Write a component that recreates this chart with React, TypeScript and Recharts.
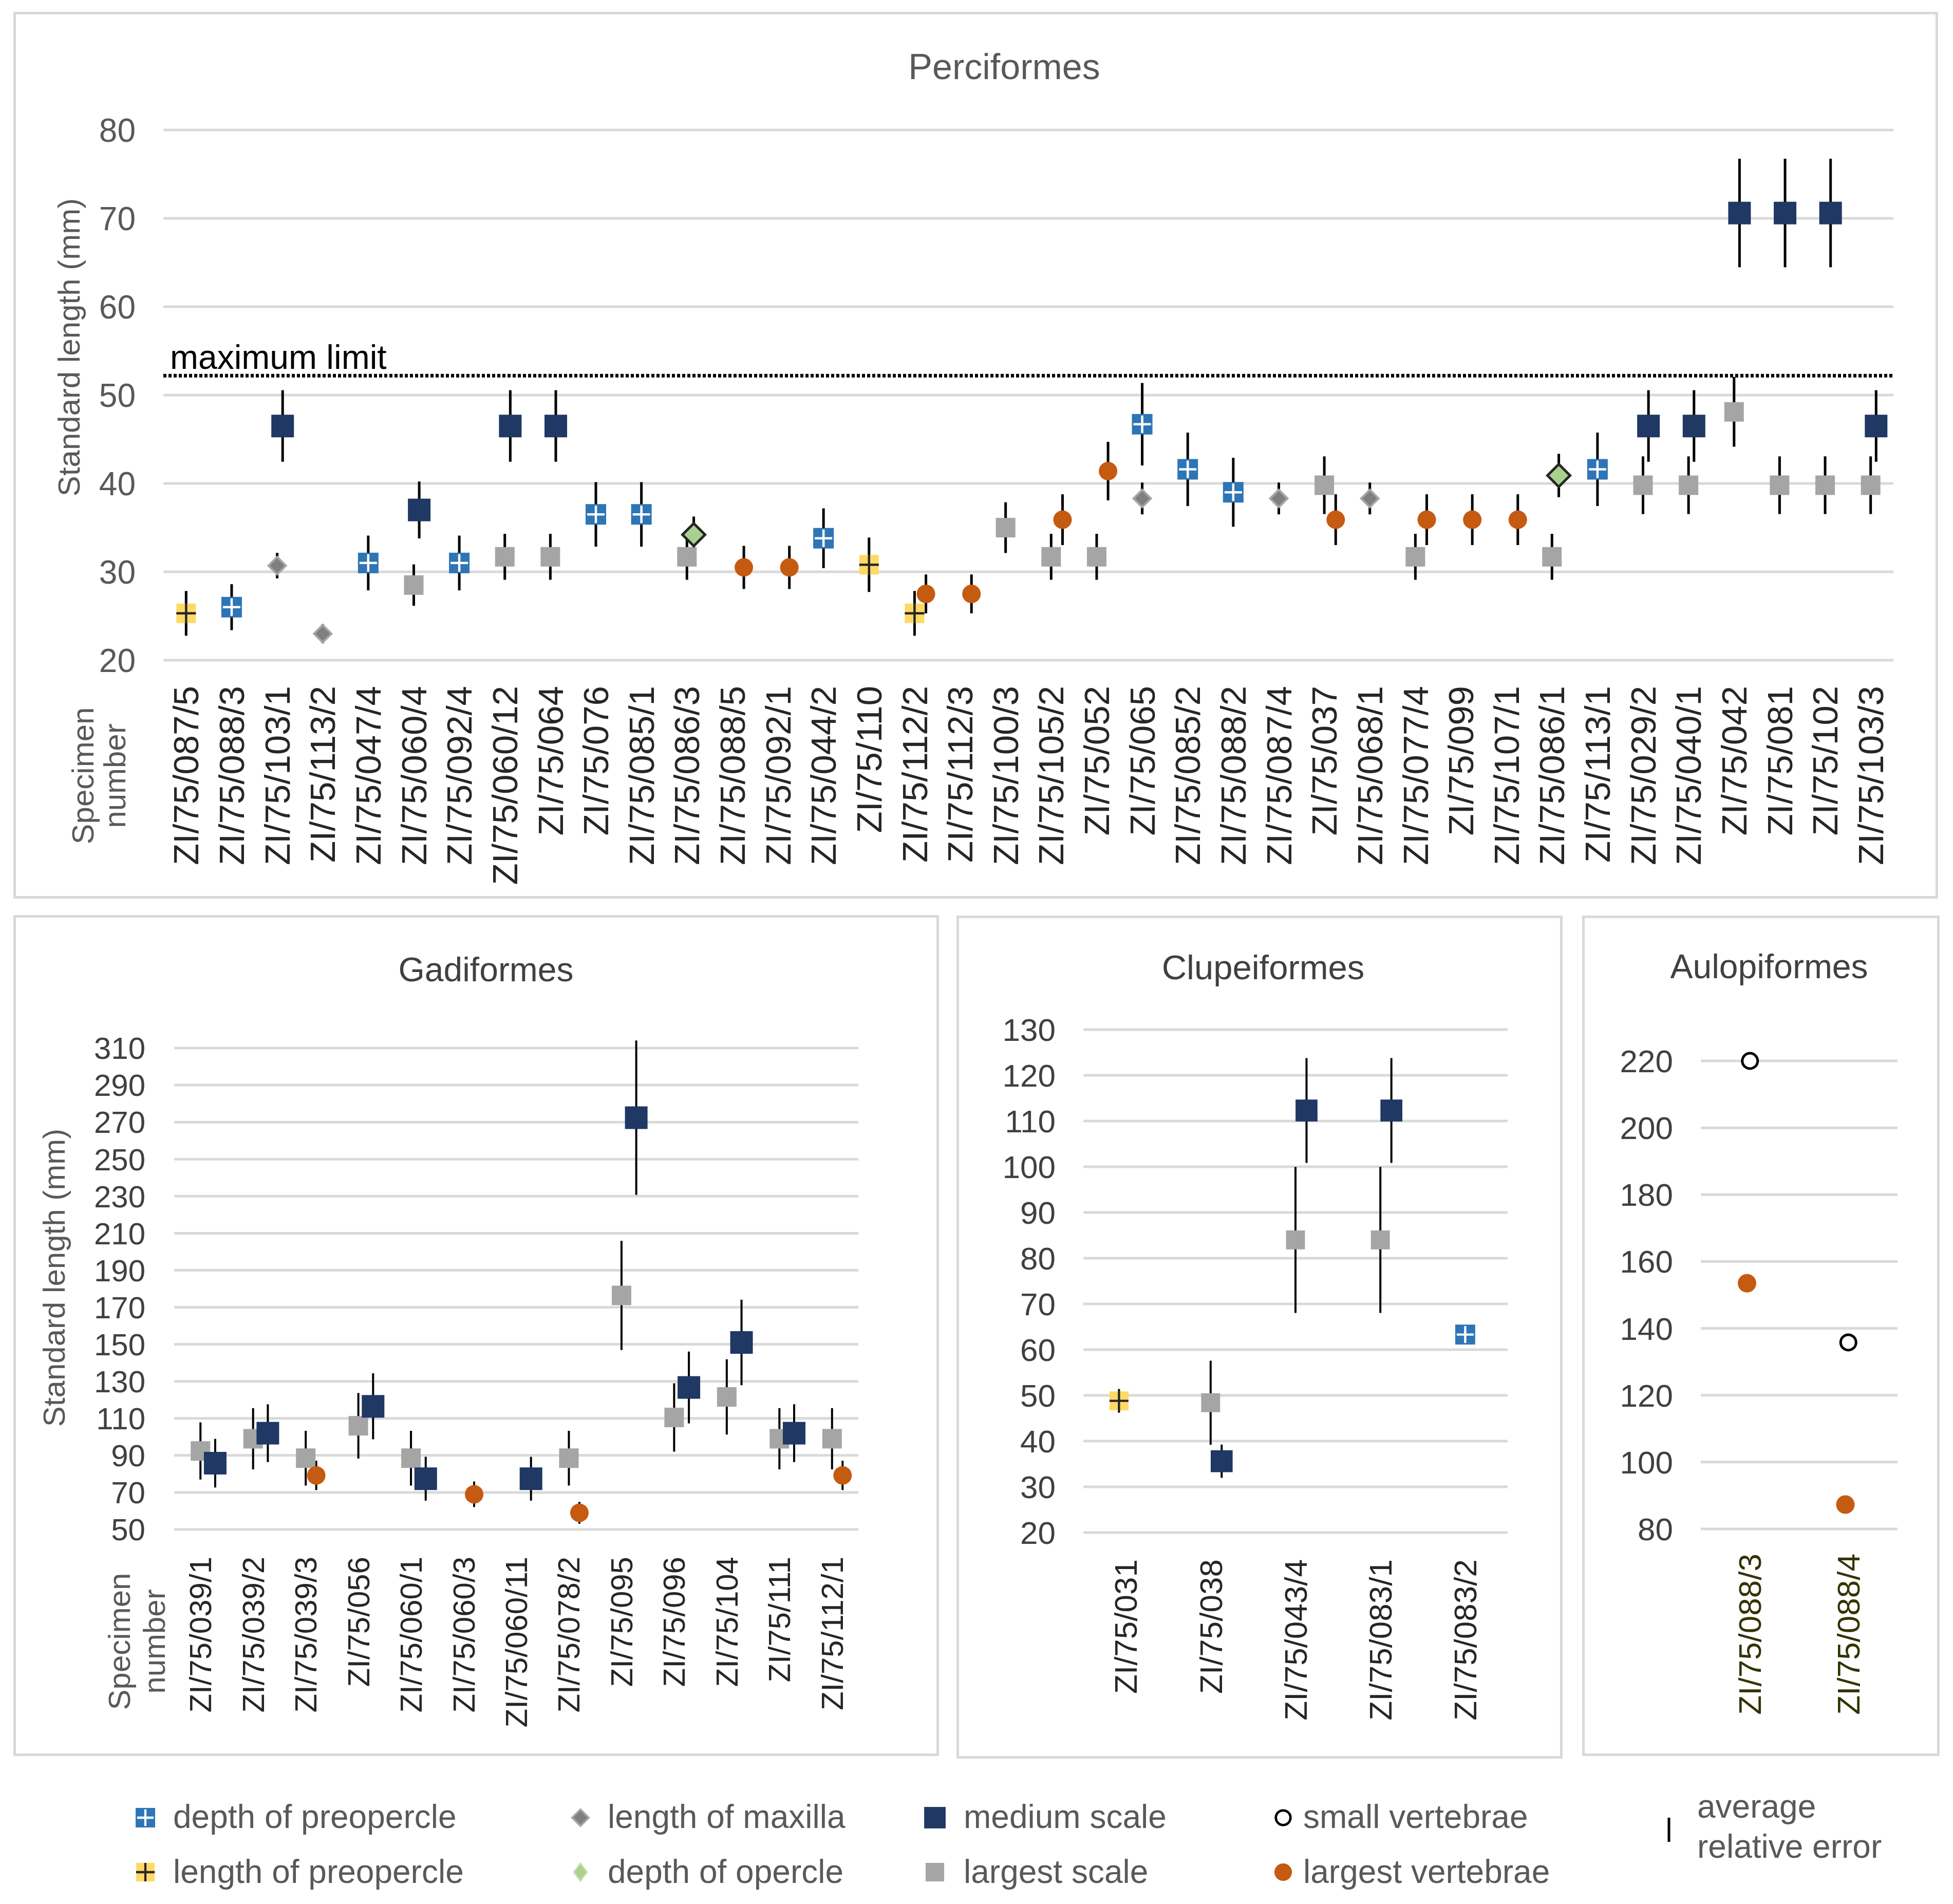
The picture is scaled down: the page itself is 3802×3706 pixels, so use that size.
import React from 'react'
import { ScatterChart, Scatter, XAxis, YAxis, CartesianGrid, ErrorBar, ReferenceLine } from 'recharts'

const FONT = '"Liberation Sans", Arial, Helvetica, sans-serif'
const _ = null

// ---------- Perciformes ----------
const percSpecimens = [
  'ZI/75/087/5', 'ZI/75/088/3', 'ZI/75/103/1', 'ZI/75/113/2', 'ZI/75/047/4', 'ZI/75/060/4', 'ZI/75/092/4',
  'ZI/75/060/12', 'ZI/75/064', 'ZI/75/076', 'ZI/75/085/1', 'ZI/75/086/3', 'ZI/75/088/5', 'ZI/75/092/1',
  'ZI/75/044/2', 'ZI/75/110', 'ZI/75/112/2', 'ZI/75/112/3', 'ZI/75/100/3', 'ZI/75/105/2', 'ZI/75/052',
  'ZI/75/065', 'ZI/75/085/2', 'ZI/75/088/2', 'ZI/75/087/4', 'ZI/75/037', 'ZI/75/068/1', 'ZI/75/077/4',
  'ZI/75/099', 'ZI/75/107/1', 'ZI/75/086/1', 'ZI/75/113/1', 'ZI/75/029/2', 'ZI/75/040/1', 'ZI/75/042',
  'ZI/75/081', 'ZI/75/102', 'ZI/75/103/3',
]
const percDepthPreopercle = [_, 26, _, _, 31, _, 31, _, _, 36.5, 36.5, _, _, _, 33.8, _, _, _, _, _, _, 46.7, 41.6, 39, _, _, _, _, _, _, _, 41.6, _, _, _, _, _, _]
const percLengthPreopercle = [25.3, _, _, _, _, _, _, _, _, _, _, _, _, _, _, 30.8, 25.3, _, _, _, _, _, _, _, _, _, _, _, _, _, _, _, _, _, _, _, _, _]
const percLengthMaxilla = [_, _, 30.7, 23, _, _, _, _, _, _, _, _, _, _, _, _, _, _, _, _, _, 38.3, _, _, 38.3, _, 38.3, _, _, _, _, _, _, _, _, _, _, _]
const percDepthOpercle = [_, _, _, _, _, _, _, _, _, _, _, 34.2, _, _, _, _, _, _, _, _, _, _, _, _, _, _, _, _, _, _, 40.9, _, _, _, _, _, _, _]
const percMediumScale = [_, _, 46.5, _, _, 37, _, 46.5, 46.5, _, _, _, _, _, _, _, _, _, _, _, _, _, _, _, _, _, _, _, _, _, _, _, 46.5, 46.5, 70.6, 70.6, 70.6, 46.5]
const percLargestScale = [_, _, _, _, _, 28.5, _, 31.7, 31.7, _, _, 31.7, _, _, _, _, _, _, 35, 31.7, 31.7, _, _, _, _, 39.8, _, 31.7, _, _, 31.7, _, 39.8, 39.8, 48.1, 39.8, 39.8, 39.8]
const percLargestVertebrae = [_, _, _, _, _, _, _, _, _, _, _, _, 30.5, 30.5, _, _, 27.5, 27.5, _, 35.9, 41.4, _, _, _, _, 35.9, _, 35.9, 35.9, 35.9, _, _, _, _, _, _, _, _]
const percTicks = [20, 30, 40, 50, 60, 70, 80]
const percMaximumLimit = 52.2

// ---------- Gadiformes ----------
const gadiSpecimens = [
  'ZI/75/039/1', 'ZI/75/039/2', 'ZI/75/039/3', 'ZI/75/056', 'ZI/75/060/1', 'ZI/75/060/3', 'ZI/75/060/11',
  'ZI/75/078/2', 'ZI/75/095', 'ZI/75/096', 'ZI/75/104', 'ZI/75/111', 'ZI/75/112/1',
]
const gadiLargestScale = [92.4, 99, 88.5, 106, 88.5, _, _, 88.5, 176.4, 110.5, 121.6, 99, 99]
const gadiMediumScale = [85.8, 102, _, 116.5, 77.4, _, 77.4, _, 272.4, 126.7, 151, 102, _]
const gadiLargestVertebrae = [_, _, 79.2, _, _, 69, _, 59, _, _, _, _, 79.2]
const gadiTicks = [50, 70, 90, 110, 130, 150, 170, 190, 210, 230, 250, 270, 290, 310]

// ---------- Clupeiformes ----------
const clupSpecimens = ['ZI/75/031', 'ZI/75/038', 'ZI/75/043/4', 'ZI/75/083/1', 'ZI/75/083/2']
const clupLengthPreopercle = [48.8, _, _, _, _]
const clupLargestScale = [_, 48.4, 84, 84, _]
const clupMediumScale = [_, 35.6, 112.3, 112.3, _]
const clupDepthPreopercle = [_, _, _, _, 63.3]
const clupTicks = [20, 30, 40, 50, 60, 70, 80, 90, 100, 110, 120, 130]

// ---------- Aulopiformes ----------
const aulSpecimens = ['ZI/75/088/3', 'ZI/75/088/4']
const aulSmallVertebrae = [220, 135.8]
const aulLargestVertebrae = [153.5, 87.3]
const aulTicks = [80, 100, 120, 140, 160, 180, 200, 220]

// average relative error of each estimate, per order
const percRelError = { depthPre: 0.1, lengthPre: 0.1, maxilla: 0.047, opercle: 0.06, medium: 0.087, largest: 0.082, vertL: 0.08 }
const gadiRelError = { largest: 0.167, medium: 0.153, vertL: 0.1 }
const clupRelError = { lengthPre: 0.053, largest: 0.19, medium: 0.102, depthPre: 0 }

const legendRow1 = [
  { kind: 'depthPre', label: 'depth of preopercle' },
  { kind: 'maxilla', label: 'length of maxilla' },
  { kind: 'medium', label: 'medium scale' },
  { kind: 'vertS', label: 'small vertebrae' },
]
const legendRow2 = [
  { kind: 'lengthPre', label: 'length of preopercle' },
  { kind: 'opercleKey', label: 'depth of opercle' },
  { kind: 'largest', label: 'largest scale' },
  { kind: 'vertL', label: 'largest vertebrae' },
]

function Marker({ kind, cx, cy, scale = 1 }: any) {
  if (cx == null || cy == null) return null
  const s = scale
  if (kind === 'depthPre') {
    const h = 20 * s
    return (
      <g>
        <rect x={cx - h} y={cy - h} width={2 * h} height={2 * h} fill="#2e75b6" />
        <line x1={cx - h * 0.85} x2={cx + h * 0.85} y1={cy} y2={cy} stroke="#fff" strokeWidth={4.5 * s} />
        <line x1={cx} x2={cx} y1={cy - h * 0.85} y2={cy + h * 0.85} stroke="#fff" strokeWidth={4.5 * s} />
      </g>
    )
  }
  if (kind === 'lengthPre') {
    const h = 19 * s
    return (
      <g>
        <rect x={cx - h} y={cy - h} width={2 * h} height={2 * h} fill="#ffd966" />
        <line x1={cx - h} x2={cx + h} y1={cy} y2={cy} stroke="#262626" strokeWidth={4.5 * s} />
        <line x1={cx} x2={cx} y1={cy - h} y2={cy + h} stroke="#262626" strokeWidth={4.5 * s} />
      </g>
    )
  }
  if (kind === 'maxilla') {
    const r = 17 * s
    return <polygon points={`${cx},${cy - r} ${cx + r},${cy} ${cx},${cy + r} ${cx - r},${cy}`} fill="#7f7f7f" stroke="#a6a6a6" strokeWidth={4 * s} />
  }
  if (kind === 'opercle') {
    const r = 22 * s
    return <polygon points={`${cx},${cy - r} ${cx + r},${cy} ${cx},${cy + r} ${cx - r},${cy}`} fill="#a9d18e" stroke="#262626" strokeWidth={5 * s} />
  }
  if (kind === 'opercleKey') {
    const r = 18 * s
    return <polygon points={`${cx},${cy - r} ${cx + r * 0.75},${cy} ${cx},${cy + r} ${cx - r * 0.75},${cy}`} fill="#a9d18e" stroke="#c5e0b4" strokeWidth={3 * s} />
  }
  if (kind === 'medium') {
    const h = 22 * s
    return <rect x={cx - h} y={cy - h} width={2 * h} height={2 * h} fill="#1f3864" />
  }
  if (kind === 'largest') {
    const h = 19 * s
    return <rect x={cx - h} y={cy - h} width={2 * h} height={2 * h} fill="#a5a5a5" />
  }
  if (kind === 'vertL') {
    return <circle cx={cx} cy={cy} r={18 * s} fill="#c55a11" />
  }
  return <circle cx={cx} cy={cy} r={15 * s} fill="#fff" stroke="#000" strokeWidth={5 * s} />
}

function toPoints(values: (number | null)[], rel: number, offset: number) {
  const pts: { x: number; y: number; err: number }[] = []
  values.forEach((v, i) => {
    if (v != null) pts.push({ x: i + 1 + offset, y: v, err: v * rel })
  })
  return pts
}

function CatTick({ x, y, payload, labels, fontSize, fill }: any) {
  const label = labels[Math.round(payload.value) - 1]
  return (
    <g transform={`translate(${x},${y})`}>
      <text transform="rotate(-90)" textAnchor="end" dy="0.35em" fontSize={fontSize} fill={fill}>
        {label}
      </text>
    </g>
  )
}

function Panel({ box, plot, specimens, yDomain, yTicks, clipY, series, catFont, catColor, catGap, tickFont, tickColor, tickGap, barWidth, markerScale, children }: any) {
  const n = specimens.length
  const xTicks = specimens.map((_s: string, i: number) => i + 1)
  return (
    <div style={{ position: 'absolute', left: box.left, top: box.top }}>
      <ScatterChart
        width={box.width}
        height={box.height}
        margin={{ top: plot.top - box.top, right: box.left + box.width - plot.right, bottom: 0, left: 0 }}
      >
        <CartesianGrid vertical={false} stroke="#d9d9d9" strokeWidth={5} />
        <XAxis
          type="number"
          dataKey="x"
          domain={[0.5, n + 0.5]}
          ticks={xTicks}
          interval={0}
          height={box.top + box.height - plot.bottom}
          axisLine={false}
          tickLine={false}
          tickSize={0}
          tickMargin={catGap}
          tick={(p: any) => <CatTick {...p} labels={specimens} fontSize={catFont} fill={catColor} />}
        />
        <YAxis
          type="number"
          dataKey="y"
          domain={yDomain}
          allowDataOverflow={!!clipY}
          ticks={yTicks}
          interval={0}
          width={plot.left - box.left}
          axisLine={false}
          tickLine={false}
          tickSize={0}
          tickMargin={tickGap}
          tick={{ fontSize: tickFont, fill: tickColor }}
        />
        {series.map((s: any) => (
          <Scatter
            key={s.kind}
            name={s.name}
            data={toPoints(s.values, s.rel, s.offset)}
            isAnimationActive={false}
            shape={(p: any) => <Marker kind={s.kind} cx={p.cx} cy={p.cy} scale={markerScale} />}
          >
            {s.rel > 0 && (
              <ErrorBar dataKey="err" direction="y" width={0} stroke="#000" strokeWidth={barWidth} isAnimationActive={false} />
            )}
          </Scatter>
        ))}
        {children}
      </ScatterChart>
    </div>
  )
}

const percBox = { left: 26, top: 23, width: 3747, height: 1726 }
const percPlot = { left: 318, top: 253, right: 3686, bottom: 1285 }
const gadiBox = { left: 26, top: 1781, width: 1802, height: 1637 }
const gadiPlot = { left: 339, top: 2040, right: 1671, bottom: 2977 }
const clupBox = { left: 1862, top: 1782, width: 1180, height: 1641 }
const clupPlot = { left: 2109, top: 2004, right: 2935, bottom: 2983 }
const aulBox = { left: 3080, top: 1782, width: 696, height: 1636 }
const aulPlot = { left: 3311, top: 2065, right: 3694, bottom: 2976 }

function Frame({ box }: any) {
  return (
    <div
      style={{
        position: 'absolute', left: box.left, top: box.top, width: box.width, height: box.height,
        border: '5px solid #d9d9d9', boxSizing: 'border-box',
      }}
    />
  )
}

export default function App() {
  const percSeries = [
    { kind: 'largest', name: 'largest scale', values: percLargestScale, rel: percRelError.largest, offset: 0 },
    { kind: 'depthPre', name: 'depth of preopercle', values: percDepthPreopercle, rel: percRelError.depthPre, offset: 0 },
    { kind: 'lengthPre', name: 'length of preopercle', values: percLengthPreopercle, rel: percRelError.lengthPre, offset: 0 },
    { kind: 'maxilla', name: 'length of maxilla', values: percLengthMaxilla, rel: percRelError.maxilla, offset: 0 },
    { kind: 'opercle', name: 'depth of opercle', values: percDepthOpercle, rel: percRelError.opercle, offset: 0.15 },
    { kind: 'medium', name: 'medium scale', values: percMediumScale, rel: percRelError.medium, offset: 0.12 },
    { kind: 'vertL', name: 'largest vertebrae', values: percLargestVertebrae, rel: percRelError.vertL, offset: 0.25 },
  ]
  const gadiSeries = [
    { kind: 'largest', name: 'largest scale', values: gadiLargestScale, rel: gadiRelError.largest, offset: 0 },
    { kind: 'medium', name: 'medium scale', values: gadiMediumScale, rel: gadiRelError.medium, offset: 0.28 },
    { kind: 'vertL', name: 'largest vertebrae', values: gadiLargestVertebrae, rel: gadiRelError.vertL, offset: 0.2 },
  ]
  const clupSeries = [
    { kind: 'lengthPre', name: 'length of preopercle', values: clupLengthPreopercle, rel: clupRelError.lengthPre, offset: -0.08 },
    { kind: 'largest', name: 'largest scale', values: clupLargestScale, rel: clupRelError.largest, offset: 0 },
    { kind: 'medium', name: 'medium scale', values: clupMediumScale, rel: clupRelError.medium, offset: 0.13 },
    { kind: 'depthPre', name: 'depth of preopercle', values: clupDepthPreopercle, rel: clupRelError.depthPre, offset: 0 },
  ]
  const aulSeries = [
    { kind: 'vertS', name: 'small vertebrae', values: aulSmallVertebrae, rel: 0, offset: 0 },
    { kind: 'vertL', name: 'largest vertebrae', values: aulLargestVertebrae, rel: 0, offset: -0.03 },
  ]

  const legendColsMarker = [283, 1130, 1820, 2498]
  const legendColsText = [337, 1183, 1876, 2537]

  return (
    <div style={{ position: 'absolute', left: 0, top: 0, width: 3802, height: 3706, background: '#fff', fontFamily: FONT }}>
      <Frame box={percBox} />
      <Frame box={gadiBox} />
      <Frame box={clupBox} />
      <Frame box={aulBox} />

      <Panel
        box={percBox} plot={percPlot} specimens={percSpecimens} yDomain={[20, 80]} yTicks={percTicks}
        series={percSeries} catFont={69} catColor="#262626" catGap={50} tickFont={64} tickColor="#595959"
        tickGap={54} barWidth={5} markerScale={1}
      >
        <ReferenceLine
          y={percMaximumLimit}
          stroke="#000"
          strokeWidth={7}
          strokeDasharray="6 4"
          label={{ value: 'maximum limit', position: 'insideBottomLeft', offset: 13, fill: '#000', fontSize: 66 }}
        />
      </Panel>
      <Panel
        box={gadiBox} plot={gadiPlot} specimens={gadiSpecimens} yDomain={[50, 310]} yTicks={gadiTicks} clipY
        series={gadiSeries} catFont={60} catColor="#262626" catGap={53} tickFont={60} tickColor="#404040"
        tickGap={56} barWidth={4} markerScale={1}
      />
      <Panel
        box={clupBox} plot={clupPlot} specimens={clupSpecimens} yDomain={[20, 130]} yTicks={clupTicks}
        series={clupSeries} catFont={62} catColor="#262626" catGap={52} tickFont={62} tickColor="#404040"
        tickGap={54} barWidth={4} markerScale={0.97}
      />
      <Panel
        box={aulBox} plot={aulPlot} specimens={aulSpecimens} yDomain={[80, 220]} yTicks={aulTicks}
        series={aulSeries} catFont={62} catColor="#333300" catGap={48} tickFont={62} tickColor="#404040"
        tickGap={54} barWidth={4} markerScale={1}
      />

      <svg width={3802} height={3706} style={{ position: 'absolute', left: 0, top: 0, pointerEvents: 'none' }} fontFamily={FONT}>
        <text x={1955} y={154} textAnchor="middle" fontSize={70} fill="#595959">Perciformes</text>
        <text x={946} y={1910} textAnchor="middle" fontSize={66} fill="#404040">Gadiformes</text>
        <text x={2459} y={1906} textAnchor="middle" fontSize={67} fill="#404040">Clupeiformes</text>
        <text x={3444} y={1904} textAnchor="middle" fontSize={66} fill="#404040">Aulopiformes</text>

        <text transform="translate(155,676) rotate(-90)" textAnchor="middle" fontSize={60} fill="#595959">Standard length (mm)</text>
        <text transform="translate(182,1510) rotate(-90)" textAnchor="middle" fontSize={60} fill="#595959">Specimen</text>
        <text transform="translate(244,1510) rotate(-90)" textAnchor="middle" fontSize={60} fill="#595959">number</text>

        <text transform="translate(126,2487) rotate(-90)" textAnchor="middle" fontSize={60} fill="#595959">Standard length (mm)</text>
        <text transform="translate(253,3195) rotate(-90)" textAnchor="middle" fontSize={60} fill="#595959">Specimen</text>
        <text transform="translate(321,3195) rotate(-90)" textAnchor="middle" fontSize={60} fill="#595959">number</text>

        {legendRow1.map((it, i) => (
          <g key={it.kind}>
            <Marker kind={it.kind} cx={legendColsMarker[i]} cy={3538} scale={0.95} />
            <text x={legendColsText[i]} y={3558} fontSize={64} fill="#595959">{it.label}</text>
          </g>
        ))}
        {legendRow2.map((it, i) => (
          <g key={it.kind}>
            <Marker kind={it.kind} cx={legendColsMarker[i]} cy={3644} scale={0.95} />
            <text x={legendColsText[i]} y={3665} fontSize={64} fill="#595959">{it.label}</text>
          </g>
        ))}
        <line x1={3249} x2={3249} y1={3538} y2={3585} stroke="#000" strokeWidth={5} />
        <text x={3304} y={3538} fontSize={64} fill="#595959">average</text>
        <text x={3304} y={3616} fontSize={64} fill="#595959">relative error</text>
      </svg>
    </div>
  )
}
